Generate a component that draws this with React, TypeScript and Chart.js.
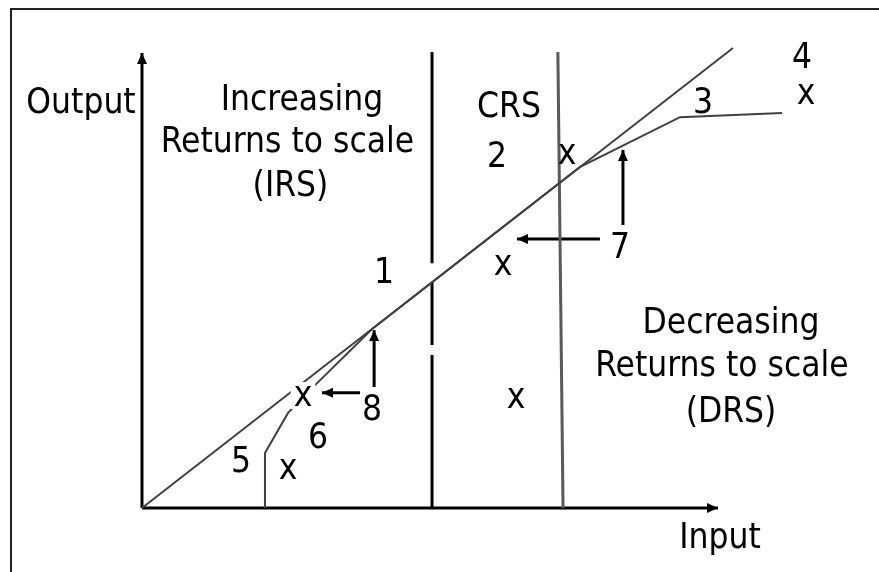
import React, { useEffect, useRef } from "react";
import { Chart, registerables } from "chart.js";

Chart.register(...registerables);

// ---- plot window (data units: Input on x, Output on y) ----
const inputMin = -24.65;
const inputMax = 127.95;
const outputMin = -14.07;
const outputMax = 111.65;

// ---- axes ----
const yAxisInput = [0, 0];
const yAxisOutput = [0, 100];
const xAxisInput = [0, 100];
const xAxisOutput = [0, 0];

// ---- constant-returns ray from the origin ----
const rayInput = [0, 102.6];
const rayOutput = [0, 101.1];

// ---- production frontier ----
const curveInput = [21.35, 21.35, 25.35, 29.17, 39.9, 76.0, 93.4, 111.1];
const curveOutput = [0, 12.1, 20.9, 25.9, 39.3, 74.9, 85.9, 86.8];

// ---- region boundaries ----
const irsBoundaryInput = [50.35, 50.35, null, 50.35, 50.35, null, 50.35, 50.35];
const irsBoundaryOutput = [100.2, 53.8, null, 49.7, 35.8, null, 33.6, 0];
const drsBoundaryInput = [72.2, 73.1];
const drsBoundaryOutput = [100.2, 0];

// ---- pointer arrows (tail -> tip) ----
const arrow8UpInput = [40.3, 40.3];
const arrow8UpOutput = [26.6, 39.1];
const arrow8LeftInput = [37.85, 31.25];
const arrow8LeftOutput = [25.3, 25.3];
const arrow7LeftInput = [79.5, 65.1];
const arrow7LeftOutput = [59.1, 59.1];
const arrow7UpInput = [83.5, 83.5];
const arrow7UpOutput = [62.2, 78.7];

// ---- text labels ----
const labelTexts = [
  "Output", "Increasing", "Returns to scale", "(IRS)", "CRS",
  "Decreasing", "Returns to scale", "(DRS)", "Input",
  "1", "2", "3", "4", "5", "6", "7", "8",
];
const labelInput = [
  -10.59, 27.78, 25.26, 25.78, 63.72,
  102.26, 100.69, 102.26, 100.35,
  42.01, 61.63, 97.4, 114.58, 17.19, 30.56, 82.99, 39.93,
];
const labelOutput = [
  86.81, 87.47, 78.24, 68.57, 85.93,
  38.46, 29.01, 18.9, -8.79,
  49.45, 74.95, 86.81, 96.7, 7.91, 13.19, 54.95, 19.34,
];

// ---- firm observations (drawn as "x") ----
const firmInput = [73.78, 62.67, 64.93, 27.95, 25.35, 115.28];
const firmOutput = [75.6, 51.21, 21.98, 22.42, 6.37, 88.79];
const firmMasked = [false, false, false, true, false, false];

const FONT = '35px "DejaVu Sans Condensed", "Liberation Sans", Arial, sans-serif';

function zip(xs: (number | null)[], ys: (number | null)[]) {
  return xs.map((x, i) => ({ x: x as any, y: ys[i] as any }));
}

function lineSet(xs: (number | null)[], ys: (number | null)[], color: string, width: number, arrow = false) {
  return {
    data: zip(xs, ys),
    showLine: true,
    borderColor: color,
    backgroundColor: color,
    borderWidth: width,
    pointRadius: 0,
    pointHoverRadius: 0,
    spanGaps: false,
    tension: 0,
    arrowHead: arrow,
  } as any;
}

const arrowPlugin = {
  id: "arrowHeads",
  afterDatasetsDraw(chart: any) {
    const ctx = chart.ctx;
    chart.data.datasets.forEach((ds: any, i: number) => {
      if (!ds.arrowHead) return;
      const pts = chart.getDatasetMeta(i).data;
      const a = pts[pts.length - 2];
      const b = pts[pts.length - 1];
      const ang = Math.atan2(b.y - a.y, b.x - a.x);
      const len = 11;
      const half = 5;
      ctx.save();
      ctx.fillStyle = ds.borderColor;
      ctx.translate(b.x, b.y);
      ctx.rotate(ang);
      ctx.beginPath();
      ctx.moveTo(0, 0);
      ctx.lineTo(-len, -half);
      ctx.lineTo(-len, half);
      ctx.closePath();
      ctx.fill();
      ctx.restore();
    });
  },
};

const labelPlugin = {
  id: "diagramLabels",
  afterDatasetsDraw(chart: any) {
    const ctx = chart.ctx;
    const sx = chart.scales.x;
    const sy = chart.scales.y;
    ctx.save();
    ctx.font = FONT;
    ctx.textAlign = "center";
    ctx.textBaseline = "alphabetic";
    ctx.fillStyle = "#000";
    labelTexts.forEach((t, i) => {
      ctx.fillText(t, sx.getPixelForValue(labelInput[i]), sy.getPixelForValue(labelOutput[i]));
    });
    firmInput.forEach((v, i) => {
      const px = sx.getPixelForValue(v);
      const py = sy.getPixelForValue(firmOutput[i]);
      if (firmMasked[i]) {
        const w = ctx.measureText("x").width;
        ctx.fillStyle = "#fff";
        ctx.fillRect(px - w / 2 - 3, py - 24, w + 6, 27);
        ctx.fillStyle = "#000";
      }
      ctx.fillText("x", px, py);
    });
    ctx.restore();
  },
};

export default function App() {
  const ref = useRef<HTMLCanvasElement | null>(null);
  useEffect(() => {
    if (!ref.current) return;
    const chart = new Chart(ref.current, {
      type: "scatter",
      data: {
        datasets: [
          lineSet(rayInput, rayOutput, "#404040", 2),
          lineSet(curveInput, curveOutput, "#404040", 2),
          lineSet(irsBoundaryInput, irsBoundaryOutput, "#000", 3),
          lineSet(drsBoundaryInput, drsBoundaryOutput, "#5a5a5a", 3),
          lineSet(yAxisInput, yAxisOutput, "#000", 3, true),
          lineSet(xAxisInput, xAxisOutput, "#000", 3, true),
          lineSet(arrow8UpInput, arrow8UpOutput, "#000", 3, true),
          lineSet(arrow8LeftInput, arrow8LeftOutput, "#000", 3, true),
          lineSet(arrow7LeftInput, arrow7LeftOutput, "#000", 3, true),
          lineSet(arrow7UpInput, arrow7UpOutput, "#000", 3, true),
        ],
      },
      options: {
        animation: false,
        responsive: false,
        maintainAspectRatio: false,
        devicePixelRatio: 1,
        layout: { padding: 0 },
        events: [],
        plugins: { legend: { display: false }, tooltip: { enabled: false } },
        scales: {
          x: { type: "linear", min: inputMin, max: inputMax, display: false },
          y: { type: "linear", min: outputMin, max: outputMax, display: false },
        },
      },
      plugins: [arrowPlugin, labelPlugin],
    });
    return () => chart.destroy();
  }, []);

  return (
    <div style={{ position: "fixed", left: 0, top: 0, width: 879, height: 572, background: "#fff", overflow: "hidden" }}>
      <div
        style={{
          position: "absolute",
          left: 10,
          top: 8,
          width: 900,
          height: 600,
          borderLeft: "2px solid #222",
          borderTop: "2px solid #222",
        }}
      />
      <canvas ref={ref} width={879} height={572} style={{ position: "absolute", left: 0, top: 0 }} />
    </div>
  );
}
